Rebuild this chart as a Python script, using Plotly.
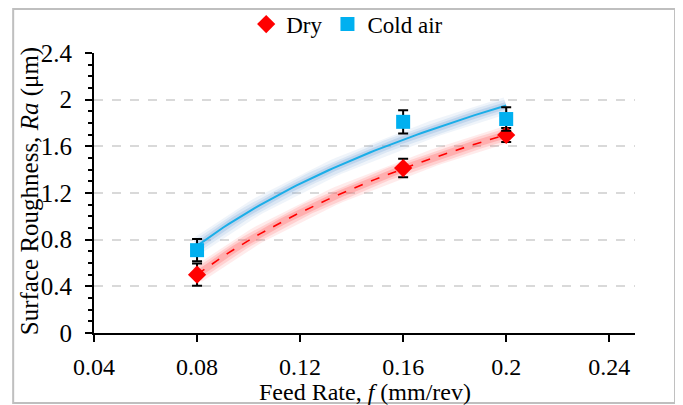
import numpy as np
import plotly.graph_objects as go

feed = [0.08, 0.16, 0.2]
dry = [0.50, 1.414, 1.697]
dry_err = [0.095, 0.08, 0.06]
cold = [0.71, 1.81, 1.834]
cold_err = [0.095, 0.10, 0.10]
xticks = [0.04, 0.08, 0.12, 0.16, 0.2, 0.24]
xticktext = ["0.04", "0.08", "0.12", "0.16", "0.2", "0.24"]
yticks = [0, 0.4, 0.8, 1.2, 1.6, 2.0, 2.4]
yticktext = ["0", "0.4", "0.8", "1.2", "1.6", "2", "2.4"]

FONT = "Liberation Serif, Times New Roman, serif"
FS = 25

def logfit(x, y):
    a, b = np.polyfit(np.log(x), y, 1)
    xs = np.linspace(min(x), max(x), 60)
    return xs, a * np.log(xs) + b

fig = go.Figure()

for ys, col, glow, dash in [(dry, "#FF0000", "rgba(255,90,90,{})", "dash"),
                            (cold, "#1AAEE8", "rgba(120,165,215,{})", "solid")]:
    xs, yf = logfit(feed, ys)
    for w, op in [(17, 0.12), (12, 0.18), (7, 0.28)]:
        fig.add_trace(go.Scatter(x=xs, y=yf, mode="lines", showlegend=False,
                                 hoverinfo="skip",
                                 line=dict(color=glow.format(op), width=w)))
    fig.add_trace(go.Scatter(x=xs, y=yf, mode="lines", showlegend=False,
                             hoverinfo="skip",
                             line=dict(color=col, width=2 if dash == "solid" else 1.6, dash=dash)))

fig.add_trace(go.Scatter(x=feed, y=dry, mode="markers", name="Dry",
                         marker=dict(symbol="diamond", size=14, color="#FF0000"),
                         error_y=dict(type="data", array=dry_err, color="black",
                                      thickness=2, width=5)))
fig.add_trace(go.Scatter(x=feed, y=cold, mode="markers", name="Cold air",
                         marker=dict(symbol="square", size=14, color="#00B0F0"),
                         error_y=dict(type="data", array=cold_err, color="black",
                                      thickness=2, width=5)))

fig.update_layout(
    width=683, height=405,
    margin=dict(l=86, r=56, t=45, b=80, autoexpand=False),
    paper_bgcolor="white", plot_bgcolor="white",
    font=dict(family=FONT, size=FS, color="black"),
    showlegend=True,
    legend=dict(orientation="h", x=0.468, xanchor="center", y=1.103, yanchor="middle",
                font=dict(family=FONT, size=23), itemwidth=30, tracegroupgap=0,
                bgcolor="rgba(0,0,0,0)"),
    xaxis=dict(range=[0.04, 0.25], tickvals=xticks, ticktext=xticktext,
               showgrid=False, zeroline=False, showline=True, linecolor="black",
               linewidth=2, ticks="outside", ticklen=7, tickwidth=2, tickcolor="black",
               ticklabelstandoff=4,
               tickfont=dict(family=FONT, size=24)),
    yaxis=dict(range=[0, 2.4], tickvals=yticks, ticktext=yticktext,
               showgrid=True, gridcolor="#D9D9D9", griddash="dash", gridwidth=1.5,
               zeroline=False, showline=True, linecolor="black", linewidth=2,
               ticks="outside", ticklen=7, tickwidth=2, tickcolor="black",
               ticklabelstandoff=8,
               tickfont=dict(family=FONT, size=FS),
               minor=dict(dtick=0.1, ticks="outside", ticklen=4, tickwidth=1.5,
                          tickcolor="black", showgrid=False)),
    annotations=[
        dict(text="Surface Roughness, <i>Ra</i> (μm)", textangle=-90,
             xref="paper", yref="paper", x=-0.118, y=0.507, showarrow=False,
             xanchor="center", yanchor="middle",
             font=dict(family=FONT, size=FS)),
        dict(text="Feed Rate, <i>f</i> (mm/rev)", xref="paper", yref="paper",
             x=0.5, y=-0.211, showarrow=False, xanchor="center", yanchor="middle",
             font=dict(family=FONT, size=24)),
    ],
    shapes=[dict(type="rect", xref="paper", yref="paper",
                 x0=-0.1494, x1=1.074, y0=-0.25, y1=1.157,
                 line=dict(color="#BFBFBF", width=2))],
)

fig.write_html("out.html")
